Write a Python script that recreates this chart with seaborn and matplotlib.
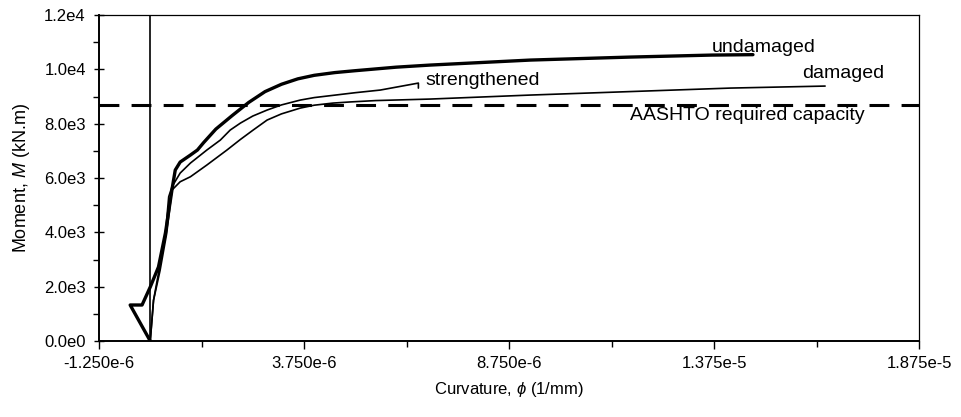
import matplotlib
matplotlib.use("Agg")
import matplotlib.pyplot as plt
import seaborn as sns
import pandas as pd
from matplotlib.ticker import FixedLocator

# Moment-curvature data (curvature in 1/mm, moment in kN.m)
undamaged_phi = [0.0, -0.49e-6, -0.20e-6, 0.0, 0.20e-6, 0.37e-6, 0.54e-6, 0.61e-6, 0.73e-6,
                 0.98e-6, 1.15e-6, 1.30e-6, 1.60e-6, 2.00e-6, 2.40e-6, 2.80e-6, 3.20e-6,
                 3.60e-6, 4.00e-6, 4.50e-6, 5.00e-6, 6.00e-6, 6.83e-6, 9.27e-6, 11.7e-6,
                 13.7e-6, 14.7e-6]
undamaged_m = [0, 1325, 1325, 1987, 2723, 3974, 5667, 6293, 6587,
               6845, 7029, 7300, 7800, 8300, 8780, 9180, 9450,
               9650, 9780, 9880, 9950, 10080, 10157, 10341, 10451,
               10525, 10540]

strengthened_phi = [0.0, 0.08e-6, 0.22e-6, 0.37e-6, 0.45e-6, 0.53e-6, 0.73e-6, 0.98e-6, 1.38e-6,
                    1.71e-6, 1.95e-6, 2.20e-6, 2.50e-6, 2.85e-6, 3.20e-6, 3.66e-6, 4.00e-6,
                    4.39e-6, 5.00e-6, 5.61e-6, 6.54e-6, 6.54e-6]
strengthened_m = [0, 1500, 2650, 3950, 5310, 5678, 6182, 6550, 7029,
                  7397, 7765, 8022, 8280, 8501, 8690, 8869, 8960,
                  9030, 9140, 9237, 9494, 9310]

damaged_phi = [0.0, 0.08e-6, 0.24e-6, 0.40e-6, 0.53e-6, 0.73e-6, 0.98e-6, 1.38e-6, 1.87e-6,
               2.20e-6, 2.51e-6, 2.85e-6, 3.20e-6, 3.66e-6, 4.00e-6, 4.46e-6, 4.88e-6,
               5.50e-6, 6.83e-6, 9.27e-6, 14.15e-6, 16.46e-6]
damaged_m = [0, 1500, 2600, 3950, 5557, 5862, 6046, 6477, 7029,
             7420, 7765, 8133, 8360, 8574, 8680, 8758, 8800,
             8850, 8906, 9053, 9310, 9384]

aashto_capacity = 8700

x_ticks = [-1.25e-6, 3.75e-6, 8.75e-6, 1.375e-5, 1.875e-5]
x_tick_labels = ["-1.250e-6", "3.750e-6", "8.750e-6", "1.375e-5", "1.875e-5"]
x_minor = [1.25e-6, 6.25e-6, 11.25e-6, 16.25e-6]
y_ticks = [0, 2000, 4000, 6000, 8000, 10000, 12000]
y_tick_labels = ["0.0e0", "2.0e3", "4.0e3", "6.0e3", "8.0e3", "1.0e4", "1.2e4"]
y_minor = [1000, 3000, 5000, 7000, 9000, 11000]

sns.set_style("ticks")
plt.rcParams["font.family"] = ["Liberation Sans", "DejaVu Sans"]
plt.rcParams["mathtext.fontset"] = "custom"
plt.rcParams["mathtext.it"] = "Liberation Sans:italic"
plt.rcParams["mathtext.rm"] = "Liberation Sans"
plt.rcParams["text.color"] = "black"
plt.rcParams["axes.labelcolor"] = "black"
plt.rcParams["xtick.color"] = "black"
plt.rcParams["ytick.color"] = "black"

fig = plt.figure(figsize=(9.61, 4.17), dpi=100)
ax = fig.add_axes([99 / 961, 1 - 341 / 417, 820 / 961, 326 / 417])

df_u = pd.DataFrame({"phi": undamaged_phi, "M": undamaged_m})
df_s = pd.DataFrame({"phi": strengthened_phi, "M": strengthened_m})
df_d = pd.DataFrame({"phi": damaged_phi, "M": damaged_m})

sns.lineplot(data=df_d, x="phi", y="M", sort=False, estimator=None, color="black", lw=1.2, ax=ax)
sns.lineplot(data=df_s, x="phi", y="M", sort=False, estimator=None, color="black", lw=1.2, ax=ax)
sns.lineplot(data=df_u, x="phi", y="M", sort=False, estimator=None, color="black", lw=2.4, ax=ax)

ax.axvline(0, color="black", lw=1.2, zorder=1)
ax.axhline(aashto_capacity, color="black", lw=2.2, dashes=(6.5, 4.0), zorder=1)

ax.set_xlim(-1.25e-6, 1.875e-5)
ax.set_ylim(0, 12000)
ax.set_xticks(x_ticks)
ax.set_xticklabels(x_tick_labels)
ax.set_yticks(y_ticks)
ax.set_yticklabels(y_tick_labels)
ax.xaxis.set_minor_locator(FixedLocator(x_minor))
ax.yaxis.set_minor_locator(FixedLocator(y_minor))
ax.tick_params(axis="both", which="major", labelsize=12, width=1.0, color="black", labelcolor="black")
ax.tick_params(axis="y", which="major", direction="inout", length=7, pad=6)
ax.tick_params(axis="x", which="major", direction="out", length=6, pad=5)
ax.tick_params(axis="both", which="minor", direction="out", length=4, width=1.0, color="black")

for side in ["left", "bottom", "top", "right"]:
    ax.spines[side].set_visible(True)
    ax.spines[side].set_color("black")
ax.spines["left"].set_linewidth(1.4)
ax.spines["bottom"].set_linewidth(1.4)
ax.spines["top"].set_linewidth(0.9)
ax.spines["right"].set_linewidth(0.9)

ax.set_xlabel("Curvature, $\\phi$ (1/mm)", fontsize=12, labelpad=6)
ax.set_ylabel("Moment, $M$ (kN.m)", fontsize=13, labelpad=9)

ax.text(13.7e-6, 10820, "undamaged", fontsize=14, ha="left", va="center")
ax.text(15.9e-6, 9862, "damaged", fontsize=14, ha="left", va="center")
ax.text(6.71e-6, 9605, "strengthened", fontsize=14, ha="left", va="center")
ax.text(11.7e-6, 8317, "AASHTO required capacity", fontsize=14, ha="left", va="center")

fig.savefig("out.png", dpi=100)
